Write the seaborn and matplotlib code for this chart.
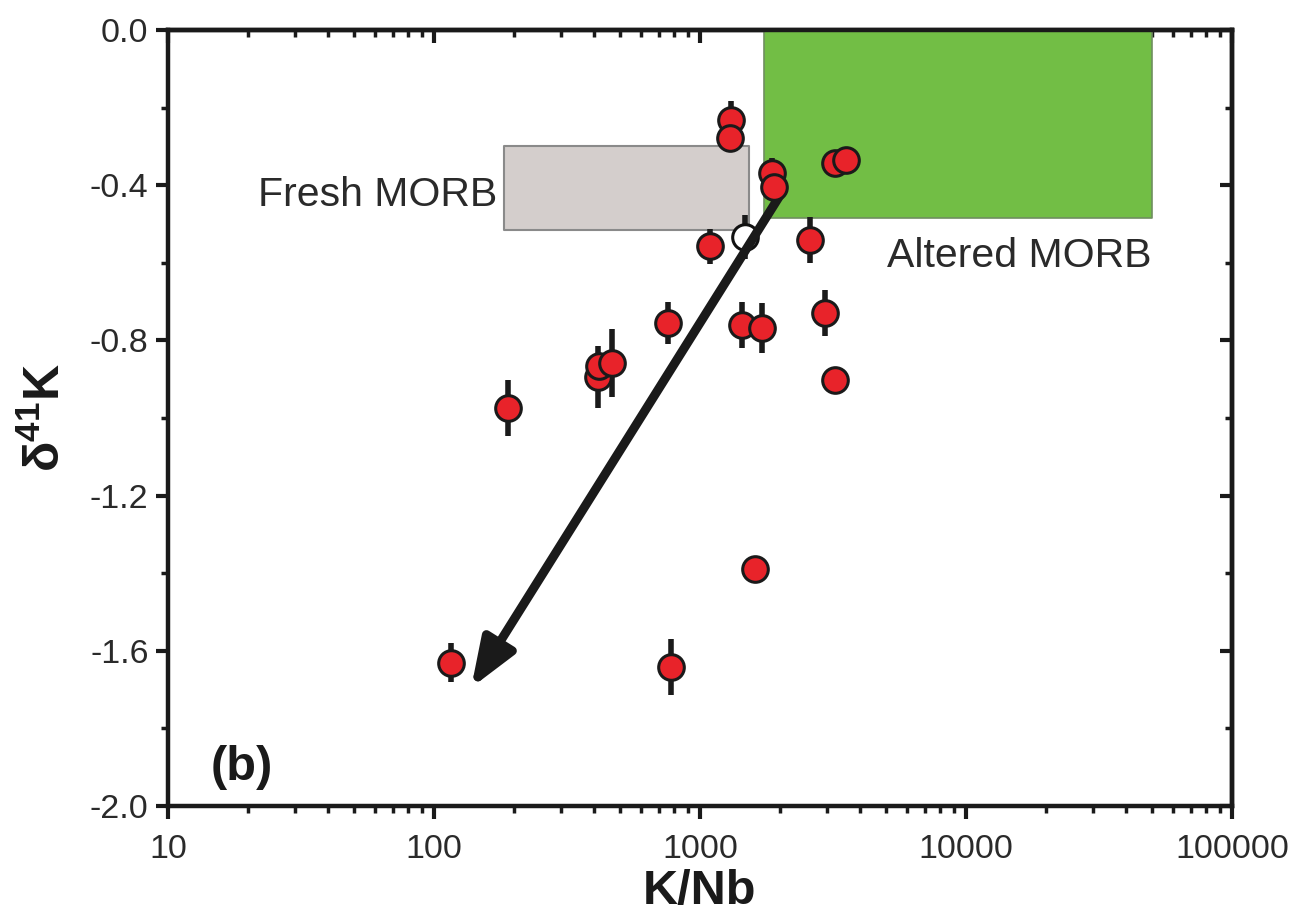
import numpy as np
import pandas as pd
import matplotlib
matplotlib.use("Agg")
import matplotlib.pyplot as plt
import seaborn as sns

# ---- data ----
kn = [1309, 1300, 1871, 1890, 3206, 3524, 1092, 2601, 755, 1439, 1714, 2938, 3206,
      414, 418, 468, 190, 1614, 116, 778]
d41k = [-0.232, -0.278, -0.369, -0.405, -0.343, -0.335, -0.557, -0.541, -0.755, -0.760,
        -0.768, -0.729, -0.902, -0.894, -0.866, -0.858, -0.974, -1.389, -1.631, -1.642]
err = [0.05, 0.03, 0.04, 0.0, 0.0, 0.0, 0.045, 0.06, 0.055, 0.06,
       0.065, 0.06, 0.0, 0.08, 0.0, 0.088, 0.073, 0.02, 0.05, 0.073]

open_kn = [1480]
open_d41k = [-0.533]
open_err = [0.057]

fresh_x = [184, 1531]
fresh_y = [-0.515, -0.299]
altered_x = [1745, 49900]
altered_y = [-0.485, 0.0]

arrow_tail = (2004, -0.425)
arrow_head = (138, -1.695)

xticks = [10, 100, 1000, 10000, 100000]
xticklabels = ["10", "100", "1000", "10000", "100000"]
yticks = [0.0, -0.4, -0.8, -1.2, -1.6, -2.0]
yticklabels = ["0.0", "-0.4", "-0.8", "-1.2", "-1.6", "-2.0"]

df = pd.DataFrame({"K/Nb": kn, "d41K": d41k, "err": err})
df_open = pd.DataFrame({"K/Nb": open_kn, "d41K": open_d41k, "err": open_err})

sns.set_style("ticks")
plt.rcParams["font.family"] = ["Liberation Sans", "DejaVu Sans"]
plt.rcParams["mathtext.fontset"] = "custom"
plt.rcParams["mathtext.rm"] = "Liberation Sans"
plt.rcParams["mathtext.bf"] = "Liberation Sans:bold"

fig = plt.figure(figsize=(12.98, 9.21), dpi=100)
ax = fig.add_axes([168 / 1298, 1 - 806 / 921, (1232 - 168) / 1298, (806 - 30) / 921])
ax.set_xscale("log")
ax.set_xlim(10, 100000)
ax.set_ylim(-2.0, 0.0)

# boxes
ax.fill_between(altered_x, altered_y[0], altered_y[1], facecolor="#72BE45",
                edgecolor="#6f8f60", linewidth=1.2, zorder=1)
ax.fill_between(fresh_x, fresh_y[0], fresh_y[1], facecolor="#D4CECC",
                edgecolor="#8a8a8a", linewidth=1.5, zorder=1)

# error bars
m = df["err"] > 0
ax.errorbar(df.loc[m, "K/Nb"], df.loc[m, "d41K"], yerr=df.loc[m, "err"], fmt="none",
            ecolor="#1a1a1a", elinewidth=4, capsize=0, zorder=2)
ax.errorbar(df_open["K/Nb"], df_open["d41K"], yerr=df_open["err"], fmt="none",
            ecolor="#1a1a1a", elinewidth=4, capsize=0, zorder=2)

# open circle
sns.scatterplot(data=df_open, x="K/Nb", y="d41K", ax=ax, s=340, color="white",
                edgecolor="#111111", linewidth=2.2, zorder=3, legend=False)

# arrow
ax.annotate("", xy=arrow_head, xytext=arrow_tail,
            arrowprops=dict(arrowstyle="-|>,head_length=2.9,head_width=1.1",
                            color="#1a1a1a", lw=6.5, shrinkA=0, shrinkB=0,
                            joinstyle="round", capstyle="round"),
            zorder=4)

# red points
sns.scatterplot(data=df, x="K/Nb", y="d41K", ax=ax, s=340, color="#E8232A",
                edgecolor="#1a1a1a", linewidth=2.2, zorder=5, legend=False)

# texts
ax.text(0.085, 0.787, "Fresh MORB", transform=ax.transAxes, fontsize=29.5,
        color="#2a2a2a", ha="left", va="center")
ax.text(0.676, 0.709, "Altered MORB", transform=ax.transAxes, fontsize=29.5,
        color="#2a2a2a", ha="left", va="center")
ax.text(0.04, 0.05, "(b)", transform=ax.transAxes, fontsize=35, fontweight="bold",
        color="#1a1a1a", ha="left", va="center")

# axes styling
for s in ax.spines.values():
    s.set_linewidth(3.2)
    s.set_color("#1a1a1a")
    s.set_visible(True)

ax.set_xticks(xticks)
ax.set_xticklabels(xticklabels)
ax.set_yticks(yticks)
ax.set_yticklabels(yticklabels)
ax.xaxis.set_minor_locator(matplotlib.ticker.LogLocator(base=10, subs=np.arange(2, 10)))
ax.xaxis.set_minor_formatter(matplotlib.ticker.NullFormatter())
ax.yaxis.set_minor_locator(matplotlib.ticker.MultipleLocator(0.2))

ax.tick_params(axis="both", which="major", direction="out", length=9, width=3,
               labelsize=24.5, colors="#1a1a1a", labelcolor="#2a2a2a")
ax.tick_params(axis="x", which="major", pad=11)
ax.tick_params(axis="y", which="major", pad=5)
ax.tick_params(axis="both", which="minor", direction="out", length=5, width=2.5,
               colors="#1a1a1a")
ax.tick_params(top=False, right=False, which="both")

secx = ax.secondary_xaxis("top")
secx.set_xscale("log")
secx.set_xticks(xticks)
secx.xaxis.set_minor_locator(matplotlib.ticker.LogLocator(base=10, subs=np.arange(2, 10)))
secx.xaxis.set_minor_formatter(matplotlib.ticker.NullFormatter())
secx.tick_params(which="major", direction="in", length=9, width=3, labeltop=False,
                 colors="#1a1a1a")
secx.tick_params(which="minor", direction="in", length=5, width=2.5, colors="#1a1a1a")
secx.spines["top"].set_linewidth(3.2)

secy = ax.secondary_yaxis("right")
secy.set_yticks(yticks)
secy.yaxis.set_minor_locator(matplotlib.ticker.MultipleLocator(0.2))
secy.tick_params(which="major", direction="in", length=9, width=3, labelright=False,
                 colors="#1a1a1a")
secy.tick_params(which="minor", direction="in", length=5, width=2.5, colors="#1a1a1a")
secy.spines["right"].set_linewidth(3.2)

ax.set_xlabel("K/Nb", fontsize=35, fontweight="bold", color="#1a1a1a", labelpad=3)
ax.set_ylabel(r"δ$^{\mathbf{41}}$K", fontsize=36, fontweight="bold", color="#1a1a1a",
              labelpad=14)

fig.savefig("out.png", dpi=100, facecolor="white")
